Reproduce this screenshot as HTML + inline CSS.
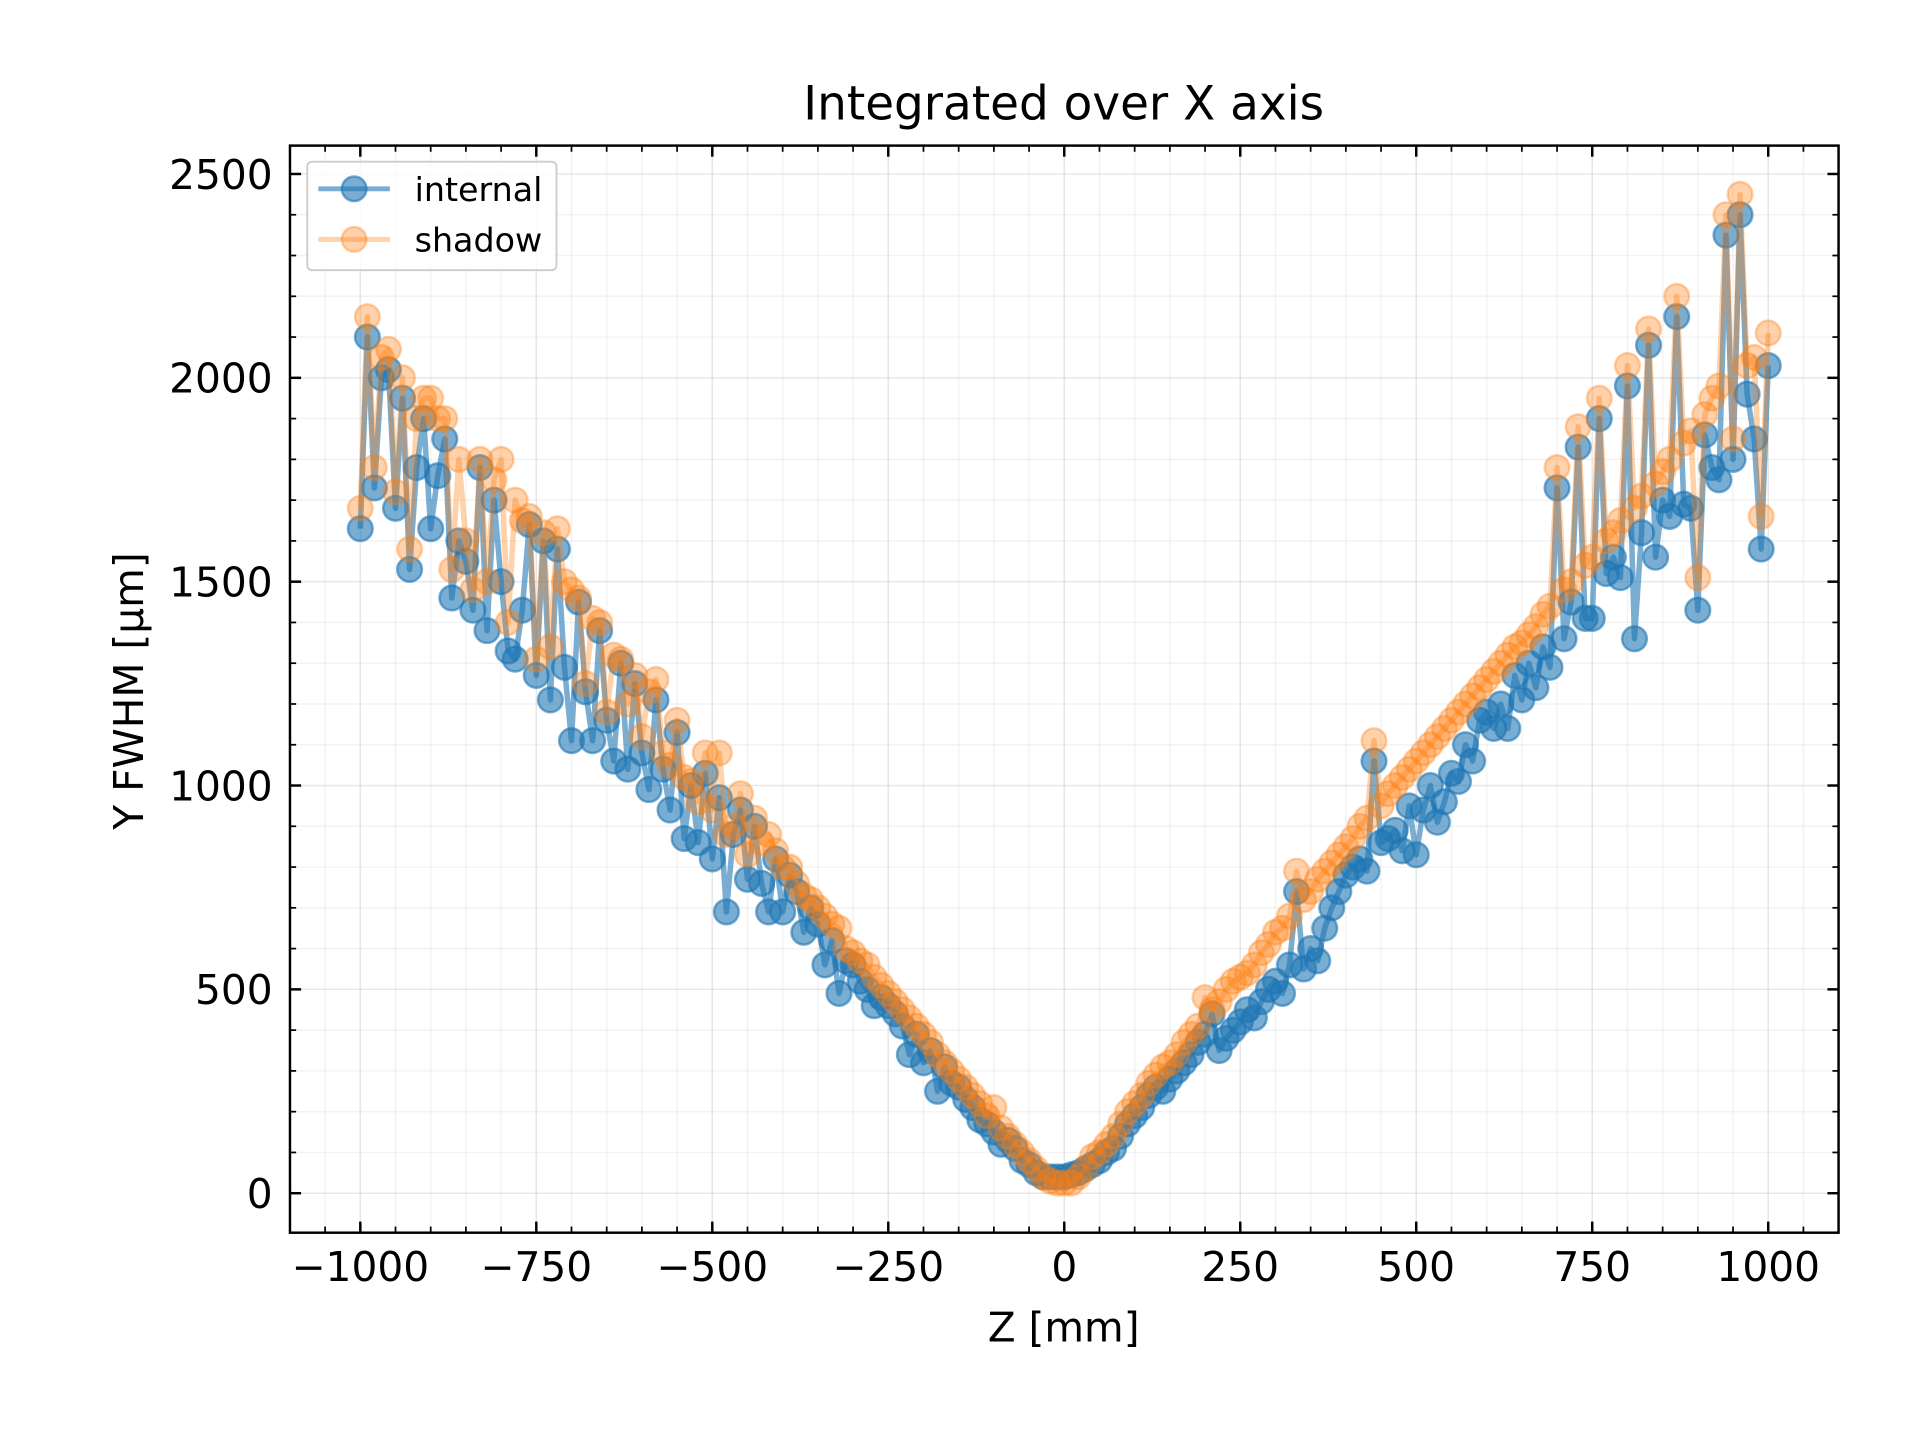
<!DOCTYPE html>
<html><head><meta charset="utf-8"><style>
html,body{margin:0;padding:0;background:#fff}
svg{display:block}
text{font-family:"DejaVu Sans","Liberation Sans",sans-serif;fill:#000}
</style></head><body>
<svg id="chart" width="1920" height="1440" viewBox="0 0 1556 1167" xmlns="http://www.w3.org/2000/svg">
<rect x="0" y="0" width="1556" height="1167" fill="#fff"/>
<text x="862" y="97" font-size="38" text-anchor="middle">Integrated over X axis</text>
<g id="grid"></g>
<g id="series"></g>
<g id="ticks"></g>
<rect x="235" y="118" width="1255" height="881" fill="none" stroke="#000" stroke-width="2"/>
<text x="862" y="1087" font-size="33" text-anchor="middle">Z [mm]</text>
<text transform="translate(116,560) rotate(-90)" font-size="33" text-anchor="middle">Y FWHM [µm]</text>
<g>
<rect x="249" y="131" width="202" height="88" rx="4" fill="#fff" fill-opacity="0.8" stroke="#ccc" stroke-width="1.5"/>
<g>
<line x1="258" y1="153" x2="316" y2="153" stroke="#1f77b4" stroke-opacity="0.6" stroke-width="4"/>
<circle cx="287" cy="153" r="10" fill="#1f77b4" fill-opacity="0.6" stroke="#1f77b4" stroke-opacity="0.6" stroke-width="2"/>
<text x="336" y="163" font-size="27">internal</text></g>
<g>
<line x1="258" y1="194" x2="316" y2="194" stroke="#ff7f0e" stroke-opacity="0.35" stroke-width="4"/>
<circle cx="287" cy="194" r="10" fill="#ff7f0e" fill-opacity="0.35" stroke="#ff7f0e" stroke-opacity="0.35" stroke-width="2"/>
<text x="336" y="204" font-size="27">shadow</text></g>
</g>
</svg>
<script>
const zValues=[-1000,-990,-980,-970,-960,-950,-940,-930,-920,-910,-900,-890,-880,-870,-860,-850,-840,-830,-820,-810,-800,-790,-780,-770,-760,-750,-740,-730,-720,-710,-700,-690,-680,-670,-660,-650,-640,-630,-620,-610,-600,-590,-580,-570,-560,-550,-540,-530,-520,-510,-500,-490,-480,-470,-460,-450,-440,-430,-420,-410,-400,-390,-380,-370,-360,-350,-340,-330,-320,-310,-300,-290,-280,-270,-260,-250,-240,-230,-220,-210,-200,-190,-180,-170,-160,-150,-140,-130,-120,-110,-100,-90,-80,-70,-60,-50,-40,-30,-20,-10,0,10,20,30,40,50,60,70,80,90,100,110,120,130,140,150,160,170,180,190,200,210,220,230,240,250,260,270,280,290,300,310,320,330,340,350,360,370,380,390,400,410,420,430,440,450,460,470,480,490,500,510,520,530,540,550,560,570,580,590,600,610,620,630,640,650,660,670,680,690,700,710,720,730,740,750,760,770,780,790,800,810,820,830,840,850,860,870,880,890,900,910,920,930,940,950,960,970,980,990,1000];
const internalValues=[1630,2100,1730,2000,2020,1680,1950,1530,1780,1900,1630,1760,1850,1460,1600,1550,1430,1780,1380,1700,1500,1330,1310,1430,1640,1270,1600,1210,1580,1290,1110,1450,1230,1110,1380,1160,1060,1300,1040,1250,1080,990,1210,1040,940,1130,870,1000,860,1030,820,970,690,880,940,770,900,760,690,820,690,780,740,640,700,660,560,620,490,570,560,520,500,460,480,460,440,410,340,390,320,350,250,310,270,260,230,210,180,170,150,120,130,110,80,70,50,40,40,40,40,45,50,60,70,80,100,110,140,170,190,210,240,260,250,280,300,320,340,370,390,440,350,380,400,420,450,430,470,500,520,490,560,740,550,600,570,650,700,740,780,800,820,790,1060,860,870,890,840,950,830,940,1000,910,960,1030,1010,1100,1060,1160,1180,1140,1200,1140,1270,1210,1300,1240,1340,1290,1730,1360,1450,1830,1410,1410,1900,1520,1560,1510,1980,1360,1620,2080,1560,1700,1660,2150,1690,1680,1430,1860,1780,1750,2350,1800,2400,1960,1850,1580,2030];
const shadowValues=[1680,2150,1780,2050,2070,1720,2000,1580,1900,1950,1950,1900,1900,1530,1800,1600,1480,1800,1500,1750,1800,1400,1700,1650,1660,1310,1620,1340,1630,1500,1480,1460,1250,1410,1400,1180,1320,1310,1200,1270,1120,1230,1260,1080,1050,1160,1020,1010,960,1080,940,1080,880,900,980,830,920,860,880,840,800,800,760,730,720,700,680,660,650,600,590,570,560,530,510,490,470,450,430,410,390,370,340,320,300,280,260,240,220,190,210,160,140,120,100,80,60,40,30,25,25,25,40,60,90,100,120,140,170,200,220,240,270,290,310,320,340,370,390,410,480,450,470,500,520,530,540,560,590,610,640,650,680,790,720,740,770,790,810,830,850,870,900,920,1110,950,980,1000,1020,1040,1060,1080,1100,1120,1140,1160,1180,1200,1220,1240,1260,1280,1300,1320,1340,1350,1370,1390,1420,1440,1780,1480,1500,1880,1540,1560,1950,1600,1620,1650,2030,1680,1710,2120,1740,1770,1800,2200,1840,1870,1510,1910,1950,1980,2400,1850,2450,2030,2050,1660,2110];
const xTickLabels=["\u22121000","\u2212750","\u2212500","\u2212250","0","250","500","750","1000"];
const xTickValues=[-1000,-750,-500,-250,0,250,500,750,1000];
const yTickLabels=["0","500","1000","1500","2000","2500"];
const yTickValues=[0,500,1000,1500,2000,2500];

const NS="http://www.w3.org/2000/svg";
const L=235,R=1490,T=118,B=999;
function xs(v){return 862.5+v*0.5705;}
function ys(v){return 967-v*0.3304;}
function mk(tag,attrs,parent){const e=document.createElementNS(NS,tag);for(const k in attrs)e.setAttribute(k,attrs[k]);parent.appendChild(e);return e;}
const grid=document.getElementById('grid'),ticks=document.getElementById('ticks'),series=document.getElementById('series');
for(let v=-1050;v<=1050;v+=50){const x=xs(v);if(x<L||x>R)continue;const major=v%250===0;
 const g=mk('line',{x1:x,x2:x,y1:T,y2:B,stroke:'#b0b0b0','stroke-opacity':major?0.3:0.15,'stroke-width':1.2},grid);
 
 
 const len=major?9:5;
 mk('line',{x1:x,x2:x,y1:B,y2:B-len,stroke:'#000','stroke-width':major?2:1.4},ticks);
 mk('line',{x1:x,x2:x,y1:T,y2:T+len,stroke:'#000','stroke-width':major?2:1.4},ticks);}
for(let v=-100;v<=2600;v+=100){const y=ys(v);if(y<T||y>B)continue;const major=v%500===0;
 const g=mk('line',{x1:L,x2:R,y1:y,y2:y,stroke:'#b0b0b0','stroke-opacity':major?0.3:0.15,'stroke-width':1.2},grid);
 
 
 const len=major?9:5;
 mk('line',{x1:L,x2:L+len,y1:y,y2:y,stroke:'#000','stroke-width':major?2:1.4},ticks);
 mk('line',{x1:R,x2:R-len,y1:y,y2:y,stroke:'#000','stroke-width':major?2:1.4},ticks);}
xTickValues.forEach((v,i)=>{const t=mk('text',{x:xs(v),y:1038,'font-size':33,'text-anchor':'middle'},ticks);t.textContent=xTickLabels[i];
 
 });
yTickValues.forEach((v,i)=>{const t=mk('text',{x:221,y:ys(v)+12,'font-size':33,'text-anchor':'end'},ticks);t.textContent=yTickLabels[i];
 
 });
function draw(vals,color,op,name){
 const g=mk('g',{},series);
 
 
 const pts=zValues.map((z,i)=>xs(z)+','+ys(vals[i])).join(' ');
 const pl=mk('polyline',{points:pts,fill:'none',stroke:color,'stroke-opacity':op,'stroke-width':4.5,'stroke-linejoin':'round'},g);
 
 
 zValues.forEach((z,i)=>{const c=mk('circle',{cx:xs(z),cy:ys(vals[i]),r:10,fill:color,'fill-opacity':op,stroke:color,'stroke-opacity':op,'stroke-width':2},g);
  
  });
}
draw(internalValues,'#1f77b4',0.6,'internal');
draw(shadowValues,'#ff7f0e',0.35,'shadow');
</script>
</body></html>
